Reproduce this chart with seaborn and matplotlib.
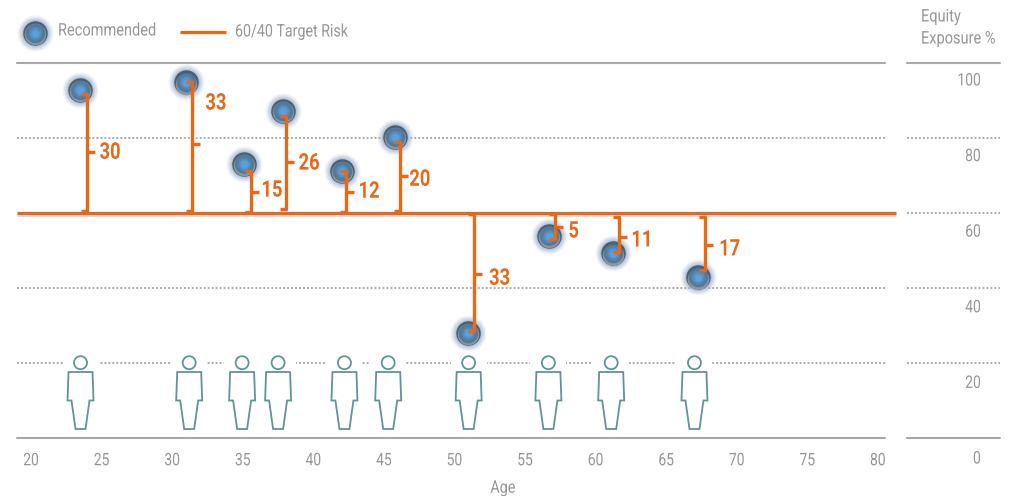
import numpy as np
import pandas as pd
import matplotlib
matplotlib.use('Agg')
import matplotlib.pyplot as plt
import seaborn as sns
from matplotlib.patches import Ellipse, Rectangle, Polygon
from matplotlib.patheffects import AbstractPathEffect
from matplotlib.transforms import Affine2D

# values
ages = [23.47, 30.98, 35.09, 37.85, 42.03, 45.8, 50.96, 56.7, 61.2, 67.25]
recommended = [92.8, 94.9, 73.1, 87.2, 71.2, 80.3, 28.0, 53.9, 49.3, 42.9]
gaps = [30, 33, 15, 26, 12, 20, 33, 5, 11, 17]
# bracket ends in equity %, the ends do not sit exactly on the dots
bracket_age = [23.97, 31.4, 35.57, 38.06, 42.3, 46.14, 51.4, 57.1, 61.65, 67.75]
bracket_top = [91.7, 95.0, 71.2, 86.0, 71.2, 78.9, 59.8, 59.8, 58.9, 58.9]
bracket_bot = [60.5, 60.5, 60.2, 61.0, 60.2, 60.5, 28.5, 53.1, 49.6, 44.9]
bracket_mid = [76.3, 78.3, 65.6, 73.7, 65.6, 69.9, 43.7, 56.3, 53.7, 51.5]
label_x = [25.6, 33.1, 37.07, 39.7, 43.95, 47.55, 53.2, 58.45, 63.3, 69.5]
label_y = [76.2, 89.3, 66.1, 73.3, 65.8, 69.0, 42.6, 55.2, 52.8, 50.4]
person_age = [23.5, 31.2, 34.95, 37.5, 42.2, 45.3, 51.0, 56.65, 61.1, 67.0]

target = 60
grid_solid = [0, 100]
grid_dotted = [20, 40, 80]
x_ticks = list(range(20, 85, 5))
y_ticks = [100, 80, 60, 40, 20, 0]

W, H = 1014, 496
ORANGE = '#e8681a'
GRAY = '#a8a8a8'
DOT = '#a6a6a6'
TXT = '#969696'
TEAL = '#5f9499'

sns.set_theme(style='white')
plt.rcParams['font.family'] = ['Roboto', 'DejaVu Sans']


class Squeeze(AbstractPathEffect):
    # no condensed family is installed, so narrow the glyphs when drawing
    def __init__(self, sx, align=0.0):
        super().__init__()
        self.sx = sx
        self.align = align

    def draw_path(self, renderer, gc, tpath, affine, rgbFace=None):
        w = tpath.get_extents().x1
        squeeze = Affine2D().scale(self.sx, 1).translate(self.align * (1 - self.sx) * w, 0)
        renderer.draw_path(gc, tpath, squeeze + affine, rgbFace)


df = pd.DataFrame({'age': ages, 'equity': recommended})

fig = plt.figure(figsize=(W / 100, H / 100), dpi=100, facecolor='white')


def px_axes(l, t, r, b):
    return fig.add_axes([l / W, 1 - b / H, (r - l) / W, (b - t) / H])


ax = px_axes(17, 63, 885, 438)
ax.set_xlim(19.0, 80.5)
ax.set_ylim(0, 100)
ax.patch.set_alpha(0)
ax2 = px_axes(907, 63, 1000, 438)
ax2.set_xlim(0, 1)
ax2.set_ylim(0, 100)
ax2.patch.set_alpha(0)
over = fig.add_axes([0, 0, 1, 1], zorder=5)
over.set_xlim(0, W)
over.set_ylim(H, 0)
over.axis('off')

PX = 868 / 61.5   # pixels per year
PY = 3.75         # pixels per % point

dotted = (0, (1.1, 1.1))
for a in (ax, ax2):
    sns.despine(ax=a, left=True, bottom=True, top=True, right=True)
    a.set_yticks([])
    a.grid(False)
    for v in grid_solid:
        a.axhline(v, color=GRAY, lw=1.5, clip_on=False, zorder=1)
    for v in grid_dotted:
        a.axhline(v, color=DOT, lw=1.3, ls=dotted, zorder=1)
ax2.axhline(target, color=DOT, lw=1.3, ls=dotted, zorder=1)
ax2.set_xticks([])

# people along the bottom, white box breaks the dotted line
body = np.array([[-12, 372], [12, 372], [13, 400.5], [9, 400.5], [5, 429],
                 [-5, 429], [-9, 400.5], [-13, 400.5]])
for a_ in person_age:
    ax.add_patch(Rectangle((a_ - 18 / PX, 1), 36 / PX, 25, fc='white', ec='none', zorder=2))
    pts = np.column_stack([a_ + body[:, 0] / PX, (438 - body[:, 1]) / PY])
    ax.add_patch(Polygon(pts, closed=True, fc='white', ec=TEAL, lw=1.3, zorder=3))
    ax.add_patch(Ellipse((a_, (438 - 362.7) / PY), 13 / PX, 13 / PY,
                         fc='white', ec=TEAL, lw=1.3, zorder=3))


def draw_balls(axis, data, xcol, ycol, dy_unit, z=4):
    # glow first, then shaded ball from rim to highlight
    kw = dict(ax=axis, linewidth=0, zorder=z, legend=False, clip_on=False)

    def layer(shift, d, color, alpha=1.0):
        sub = data.copy()
        sub[ycol] = sub[ycol] - shift * dy_unit
        sns.scatterplot(data=sub, x=xcol, y=ycol, s=(d * 0.72) ** 2, color=color, alpha=alpha, **kw)

    for d, al in [(36, 0.14), (33, 0.22), (30, 0.32), (27, 0.42)]:
        layer(0, d, '#9db2d2', al)
    layer(0, 24.5, '#4a6072')
    layer(1.4, 21.5, '#8f959b')
    n = 18
    rim = np.array(matplotlib.colors.to_rgb('#476f90'))
    mid = np.array(matplotlib.colors.to_rgb('#62a6e0'))
    for i in range(n):
        t = i / (n - 1)
        d = 20 * (1 - t) + 6 * t
        layer(-0.4 + 0.9 * t, d, tuple(rim * (1 - t) + mid * t), 0.4)
    axis.set_xlabel('')
    axis.set_ylabel('')


draw_balls(ax, df, 'age', 'equity', 1 / PY)

# target line with its soft shadow
ax.plot([19.0, 81.27], [target - 0.45, target - 0.45], color='#999999', lw=2.2, alpha=0.35,
        clip_on=False, zorder=5, solid_capstyle='butt')
ax.plot([19.0, 81.27], [target, target], color=ORANGE, lw=2.3, clip_on=False, zorder=6,
        solid_capstyle='butt')

# brackets from target to the recommended level
for x, t, b, m, g, lx, ly in zip(bracket_age, bracket_top, bracket_bot, bracket_mid, gaps,
                                 label_x, label_y):
    hook = 6 / PX
    ax.plot([x - hook, x, x, x - hook], [t, t, b, b], color=ORANGE, lw=2.4, zorder=7,
            solid_joinstyle='round', solid_capstyle='butt')
    ax.plot([x, x + 8 / PX], [m, m], color=ORANGE, lw=2.4, zorder=7, solid_capstyle='butt')
    ax.text(lx, ly, str(g), color=ORANGE, fontsize=16.5, fontweight='bold', ha='center',
            va='center', zorder=8, path_effects=[Squeeze(0.8, 0.5)])

ax.set_xticks(x_ticks)
ax.set_xticklabels([str(v) for v in x_ticks], color=TXT, fontsize=12.5)
ax.tick_params(axis='x', length=0, pad=11)
for lab in ax.get_xticklabels():
    lab.set_path_effects([Squeeze(0.8, 0.5)])
ax.set_xlabel('Age', color=TXT, fontsize=12.5, labelpad=9, x=(503 - 17) / 868,
              path_effects=[Squeeze(0.83, 0.5)])

for v in y_ticks:
    over.text(981, 459 - v * 3.78, str(v), color=TXT, fontsize=12.5, ha='right', va='center',
              path_effects=[Squeeze(0.8, 1.0)])
sq = [Squeeze(0.84)]
over.text(921, 17, 'Equity', color=TXT, fontsize=12.5, ha='left', va='center', path_effects=sq)
over.text(921, 39, 'Exposure %', color=TXT, fontsize=12.5, ha='left', va='center', path_effects=sq)

# legend drawn by hand, spacing in the picture is not what legend() gives
leg = pd.DataFrame({'x': [35.0], 'y': [33.0]})
draw_balls(over, leg, 'x', 'y', -1.0, z=4)
over.set_xlim(0, W)
over.set_ylim(H, 0)
over.text(58, 31, 'Recommended', color=TXT, fontsize=12.5, ha='left', va='center', path_effects=sq)
over.plot([180, 226], [33.3, 33.3], color='#999999', lw=1.5, alpha=0.3, solid_capstyle='butt')
over.plot([180, 226], [32, 32], color=ORANGE, lw=2.3, solid_capstyle='butt')
over.text(235, 32, '60/40 Target Risk', color=TXT, fontsize=12.5, ha='left', va='center',
          path_effects=[Squeeze(0.82)])

fig.savefig('out.png', dpi=100)
